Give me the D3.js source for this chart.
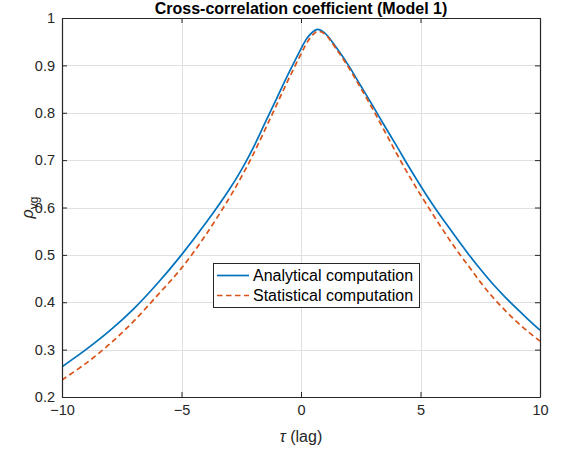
<!DOCTYPE html>
<html>
<head>
<meta charset="utf-8">
<script src="https://cdn.jsdelivr.net/npm/d3@7"></script>
<style>
  body { margin: 0; background: #fff; }
  svg { display: block; font-family: "Liberation Sans", Arial, Helvetica, sans-serif; }
</style>
</head>
<body>
<svg id="chart" width="561" height="450"></svg>
<script>
// lag values (shared by both series)
const tau = [-10, -9, -8, -7, -6, -5, -4, -3, -2.5, -2, -1.5, -1, -0.5, 0, 0.25, 0.5, 0.7, 1,
    1.5, 2, 2.5, 3, 3.5, 4, 4.5, 5, 5.5, 6, 6.5, 7, 7.5, 8, 8.5, 9, 9.5, 10];

const rhoAnalytical = [0.264, 0.300, 0.340, 0.386, 0.440, 0.500, 0.566, 0.638, 0.679, 0.726, 0.779, 0.832,
    0.885, 0.935, 0.957, 0.971, 0.976, 0.968, 0.936, 0.899, 0.857, 0.815, 0.772, 0.730, 0.687, 0.646,
    0.607, 0.571, 0.536, 0.502, 0.470, 0.440, 0.413, 0.388, 0.364, 0.341];

const rhoStatistical = [0.236, 0.271, 0.312, 0.360, 0.415, 0.472, 0.541, 0.620, 0.664, 0.712, 0.765, 0.819,
    0.873, 0.924, 0.948, 0.965, 0.972, 0.966, 0.933, 0.895, 0.852, 0.808, 0.761, 0.714, 0.669, 0.627,
    0.587, 0.548, 0.511, 0.477, 0.443, 0.412, 0.385, 0.360, 0.338, 0.318];

const xTicks = [-10, -5, 0, 5, 10];
const yTicks = [0.2, 0.3, 0.4, 0.5, 0.6, 0.7, 0.8, 0.9, 1];
const seriesNames = ['Analytical computation', 'Statistical computation'];

const svg = d3.select('#chart');
const margin = { left: 62, right: 21, top: 18, bottom: 53 };
const width = +svg.attr('width');
const height = +svg.attr('height');
const axisColor = '#262626';

const x = d3.scaleLinear().domain([-10, 10]).range([margin.left, width - margin.right]);
const y = d3.scaleLinear().domain([0.2, 1]).range([height - margin.bottom, margin.top]);

// grid
const grid = svg.append('g').attr('stroke', '#e0e0e0').attr('stroke-width', 1);
grid.selectAll('.vg').data(xTicks).enter().append('line')
    .attr('x1', d => Math.round(x(d)) + 0.5).attr('x2', d => Math.round(x(d)) + 0.5)
    .attr('y1', y.range()[1]).attr('y2', y.range()[0]);
grid.selectAll('.hg').data(yTicks).enter().append('line')
    .attr('y1', d => Math.round(y(d)) + 0.5).attr('y2', d => Math.round(y(d)) + 0.5)
    .attr('x1', x.range()[0]).attr('x2', x.range()[1]);

// data lines
svg.append('clipPath').attr('id', 'clip').append('rect')
    .attr('x', x.range()[0]).attr('y', y.range()[1])
    .attr('width', x.range()[1] - x.range()[0]).attr('height', y.range()[0] - y.range()[1]);

const line = d3.line()
    .x((d, i) => x(tau[i]))
    .y(d => y(d))
    .curve(d3.curveCatmullRom.alpha(0.5));

const plot = svg.append('g').attr('clip-path', 'url(#clip)');
plot.append('path')
    .attr('d', line(rhoAnalytical))
    .attr('fill', 'none')
    .attr('stroke', '#0072BD')
    .attr('stroke-width', 1.7);
plot.append('path')
    .attr('d', line(rhoStatistical))
    .attr('fill', 'none')
    .attr('stroke', '#D95319')
    .attr('stroke-width', 1.7)
    .attr('stroke-dasharray', '5.5,3.5');

// axes (ticks pointing inward, box on)
function styleAxis(g) {
    g.select('.domain').attr('stroke', axisColor);
    g.selectAll('.tick line').attr('stroke', axisColor);
    g.selectAll('.tick text').attr('fill', axisColor).style('font-size', '14.5px');
}

svg.append('g')
    .attr('transform', `translate(0,${y.range()[0]})`)
    .call(d3.axisBottom(x).tickValues(xTicks).tickSizeInner(-5).tickSizeOuter(0).tickPadding(8))
    .call(styleAxis);
svg.append('g')
    .attr('transform', `translate(0,${y.range()[1]})`)
    .call(d3.axisTop(x).tickValues(xTicks).tickSizeInner(-5).tickSizeOuter(0).tickFormat(''))
    .call(styleAxis);
svg.append('g')
    .attr('transform', `translate(${x.range()[0]},0)`)
    .call(d3.axisLeft(y).tickValues(yTicks).tickSizeInner(-5).tickSizeOuter(0).tickPadding(7)
        .tickFormat(d => String(d)))
    .call(styleAxis);
svg.append('g')
    .attr('transform', `translate(${x.range()[1]},0)`)
    .call(d3.axisRight(y).tickValues(yTicks).tickSizeInner(-5).tickSizeOuter(0).tickFormat(''))
    .call(styleAxis);

svg.selectAll('.domain').attr('stroke-width', 1.2);

// title and labels
const cx = (x.range()[0] + x.range()[1]) / 2;
svg.append('text')
    .attr('x', cx).attr('y', 13.5)
    .attr('text-anchor', 'middle')
    .style('font-size', '16px').style('font-weight', 'bold')
    .attr('fill', '#000')
    .text('Cross-correlation coefficient (Model 1)');

const xl = svg.append('text')
    .attr('x', cx).attr('y', 442)
    .attr('text-anchor', 'middle')
    .style('font-size', '16px')
    .attr('fill', axisColor);
xl.append('tspan').style('font-style', 'italic').text('τ');
xl.append('tspan').text(' (lag)');

const yl = svg.append('text')
    .attr('transform', `translate(33,${(y.range()[0] + y.range()[1]) / 2}) rotate(-90)`)
    .attr('text-anchor', 'middle')
    .style('font-size', '16px')
    .attr('fill', axisColor);
yl.append('tspan').style('font-style', 'italic').text('ρ');
yl.append('tspan').attr('dy', 5).style('font-size', '12px').text('yg');

// legend
const legend = svg.append('g').attr('transform', 'translate(213,263)');
legend.append('rect')
    .attr('x', 0.5).attr('y', 0.5).attr('width', 206).attr('height', 44)
    .attr('fill', '#fff').attr('stroke', axisColor).attr('stroke-width', 1);
const legendStyles = [
    { color: '#0072BD', dash: null },
    { color: '#D95319', dash: '5.5,3.5' }
];
seriesNames.forEach((name, i) => {
    const ly = 12.5 + i * 20;
    legend.append('line')
        .attr('x1', 4).attr('x2', 36).attr('y1', ly).attr('y2', ly)
        .attr('stroke', legendStyles[i].color).attr('stroke-width', 1.7)
        .attr('stroke-dasharray', legendStyles[i].dash);
    legend.append('text')
        .attr('x', 40).attr('y', ly).attr('dy', '0.35em')
        .style('font-size', '16px').attr('fill', '#000')
        .text(name);
});
</script>
</body>
</html>
